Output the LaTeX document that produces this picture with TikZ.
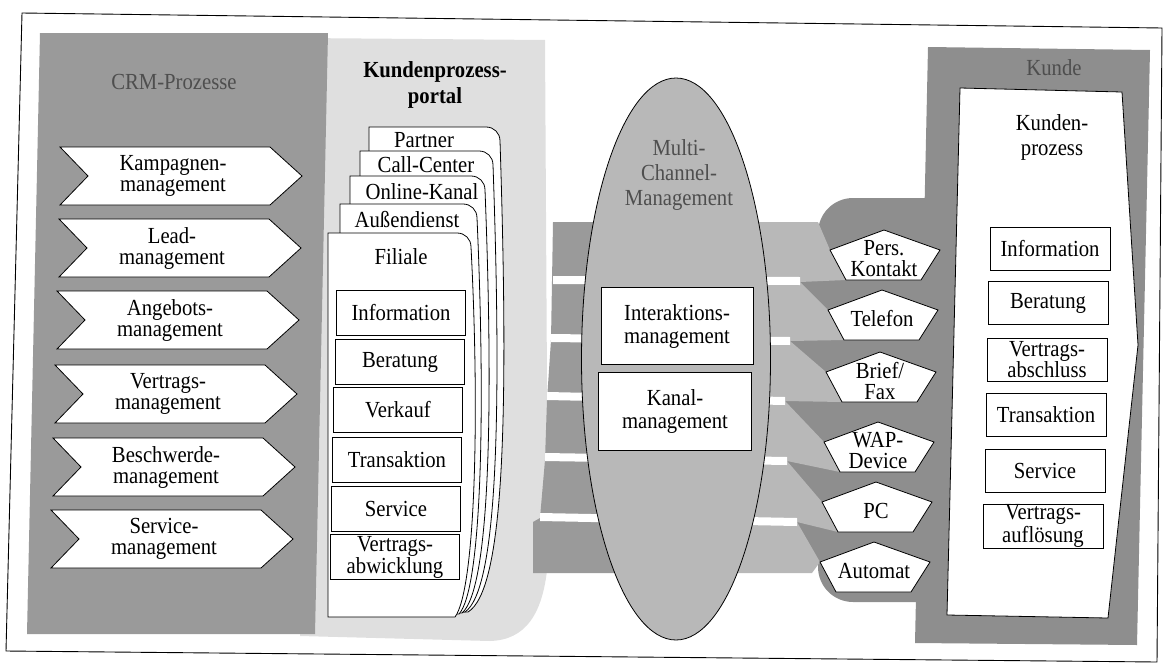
\documentclass[tikz,border=0pt]{standalone}
\usepackage{fontspec}
\setmainfont{Liberation Serif}[FakeStretch=0.9, BoldFont=Liberation Serif Bold]
\usepackage{xcolor}
\definecolor{crm-gray}{HTML}{9A9A9A}
\definecolor{portal-gray}{HTML}{DFDFDF}
\definecolor{ellipse-gray}{HTML}{B8B8B8}
\definecolor{kunde-gray}{HTML}{8E8E8E}
\definecolor{title-gray}{HTML}{4E4E4E}
\usepackage{tikz}
\usetikzlibrary{shapes.geometric}

\newcommand{\labelfont}{\fontsize{23}{21}\selectfont}

\tikzset{
  blackline/.style={draw=black, line width=0.8pt},
  plaintext/.style={inner sep=0pt, align=center, font=\labelfont},
  procbox/.style={blackline, fill=white, minimum width=129, minimum height=45, inner sep=1pt, align=center, font=\labelfont},
  kundebox/.style={procbox, minimum width=120, minimum height=43},
  mcmbox/.style={procbox, minimum width=152, minimum height=77, font=\fontsize{23}{23}\selectfont}
}

% chevron of the CRM column: name, centre x, centre y, text
\newcommand{\crmstep}[4]{%
  \draw[blackline, fill=white] (#2-121,#3-29) -- (#2+89,#3-29) -- (#2+121,#3) -- (#2+89,#3+29) -- (#2-121,#3+29) -- (#2-93,#3) -- cycle;
  \node[plaintext] (#1) at (#2-8,#3) {#4};}

% pentagon of a channel: name, centre x, apex y, text
\newcommand{\channel}[4]{%
  \draw[blackline, fill=white] (#2,#3) -- (#2+56,#3+20) -- (#2+37,#3+50) -- (#2-38,#3+50) -- (#2-54,#3+20) -- cycle;
  \node[plaintext] (#1) at (#2,#3+29) {#4};}

% card of the portal stack: left, top, right, bottom x, bottom y
\newcommand{\portalcard}[5]{%
  \draw[blackline, fill=white] (#1,#5) -- (#1,#2) -- (#3-14,#2) .. controls (#3-6,#2) and (#3,#2+6) .. (#3,#2+14) .. controls (#3+9,420) and (#3+4,590) .. (#4,#5) -- cycle;}

\begin{document}
\begin{tikzpicture}[x=1pt, y=-1pt]

    \useasboundingbox (0,0) rectangle (1164,664);

    % Frame
    \draw[line width=0.9pt] (22,13) -- (1162,28) -- (1157,662) -- (6,651) -- cycle;

    % Background panels
    \fill[portal-gray] (300,38) -- (545,40) -- (548,560) .. controls (544,615) and (525,640) .. (490,641) -- (300,636) -- cycle;
    \fill[crm-gray] (40,33) -- (328,33) -- (315,634) -- (27,634) -- cycle;
    \fill[kunde-gray, rounded corners=35] (818,602) -- (818,198) -- (1000,198) -- (1000,602) -- cycle;
    \fill[kunde-gray] (780,270) rectangle (830,565);
    \fill[kunde-gray] (928,47) -- (1150,50) -- (1137,645) -- (915,643) -- cycle;

    % Bands to the channels
    \fill[crm-gray] (553,222) -- (676,222) -- (676,573) -- (533,573) -- (533,522) -- (540,518) -- (545,460) -- (547,400) -- (551,340) -- cycle;
    \fill[ellipse-gray] (676,222) -- (818,222) -- (830,250) -- (846,280) -- (800,282) -- (828,310) -- (844,340) -- (790,341) -- (826,372) -- (842,402) -- (785,401) -- (824,442) -- (840,472) -- (787,461) -- (822,502) -- (838,532) -- (797,522) -- (820,562) -- (812,573) -- (676,573) -- cycle;
    \fill[white] (553,276) -- (800,277) -- (800,285) -- (553,284) -- cycle;
    \fill[white] (551,334) -- (790,337) -- (790,345) -- (551,342) -- cycle;
    \fill[white] (547,392) -- (785,397) -- (785,405) -- (547,400) -- cycle;
    \fill[white] (545,453) -- (787,457) -- (787,465) -- (545,461) -- cycle;
    \fill[white] (540,513) -- (797,518) -- (797,526) -- (540,521) -- cycle;

    % Multi-Channel-Management
    \node[blackline, fill=ellipse-gray, ellipse, minimum width=189, minimum height=562, inner sep=0pt] (mcm) at (676,359) {};
    \node[plaintext, text=title-gray, font=\fontsize{23}{25}\selectfont] (mcmtitle) at (679,175) {Multi-\\Channel-\\Management};
    \node[mcmbox] (interaktion) at (677,326) {Interaktions-\\management};
    \node[mcmbox, minimum width=153, minimum height=78] (kanal) at (675,411) {Kanal-\\management};

    % Channels
    \channel{perskontakt}{884}{230}{Pers.\\Kontakt}
    \channel{telefon}{882}{290}{Telefon}
    \channel{brief}{880}{352}{Brief/\\Fax}
    \channel{wap}{878}{422}{WAP-\\Device}
    \channel{pc}{876}{482}{PC}
    \channel{automat}{874}{542}{Automat}

    % Kunde
    \node[plaintext, text=title-gray] (kundetitle) at (1054,68) {Kunde};
    \draw[blackline, fill=white] (960,88) -- (1122,92) -- (1138,345) -- (1108,618) -- (947,615) -- cycle;
    \node[plaintext, font=\fontsize{23}{25}\selectfont] (kundenprozess) at (1052,137) {Kunden-\\prozess};
    \node[kundebox] (k-information) at (1050,249) {Information};
    \node[kundebox] (k-beratung) at (1048,303) {Beratung};
    \node[kundebox] (k-abschluss) at (1047,360) {Vertrags-\\abschluss};
    \node[kundebox] (k-transaktion) at (1046,415) {Transaktion};
    \node[kundebox] (k-service) at (1045,471) {Service};
    \node[kundebox] (k-aufloesung) at (1043,526) {Vertrags-\\auflösung};

    % Kundenprozessportal
    \node[plaintext, font=\bfseries\fontsize{23}{26}\selectfont] (portaltitle) at (435,85) {Kundenprozess-\\portal};
    \portalcard{369}{127}{500}{468}{612}
    \portalcard{360}{151}{493}{465}{612}
    \portalcard{350}{176}{485}{462}{613}
    \portalcard{340}{204}{477}{459}{614}
    \portalcard{328}{233}{471}{455}{617}
    \node[plaintext] (partner) at (424,140) {Partner};
    \node[plaintext] (callcenter) at (426,165) {Call-Center};
    \node[plaintext] (online) at (422,192) {Online-Kanal};
    \node[plaintext] (aussendienst) at (407,220) {Außendienst};
    \node[plaintext] (filiale) at (401,257) {Filiale};
    \node[procbox] (p-information) at (401,313) {Information};
    \node[procbox] (p-beratung) at (400,362) {Beratung};
    \node[procbox] (p-verkauf) at (398,410) {Verkauf};
    \node[procbox] (p-transaktion) at (397,460) {Transaktion};
    \node[procbox] (p-service) at (396,509) {Service};
    \node[procbox, font=\fontsize{23}{16}\selectfont] (p-abwicklung) at (395,557) {Vertrags-\\abwicklung};

    % CRM-Prozesse
    \node[plaintext, text=title-gray] (crmtitle) at (174,82) {CRM-Prozesse};
    \crmstep{kampagnen}{181}{176}{Kampagnen-\\management}
    \crmstep{lead}{180}{248}{Lead-\\management}
    \crmstep{angebot}{178}{320}{Angebots-\\management}
    \crmstep{vertrag}{176}{394}{Vertrags-\\management}
    \crmstep{beschwerde}{174}{467}{Beschwerde-\\management}
    \crmstep{service}{172}{539}{Service-\\management}

\end{tikzpicture}
\end{document}
